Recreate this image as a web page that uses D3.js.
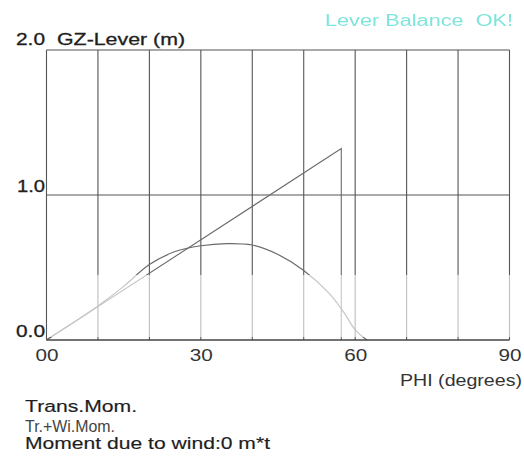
<!DOCTYPE html>
<html>
<head>
<meta charset="utf-8">
<script src="https://cdn.jsdelivr.net/npm/d3@7"></script>
<style>
  html, body { margin: 0; padding: 0; background: #fff; }
  svg { display: block; font-family: "Liberation Sans", Arial, sans-serif; }
  text { white-space: pre; }
</style>
</head>
<body>
<svg id="chart" width="524" height="468"></svg>
<script>
// Heel angle (degrees) and righting lever GZ (m)
const heelAngles = [0, 5, 10, 15, 20, 25, 30, 35, 40, 45, 50, 55, 58, 60, 62.3];
const gzValues   = [0, 0.115, 0.235, 0.37, 0.52, 0.61, 0.65, 0.665, 0.655, 0.59, 0.48, 0.32, 0.18, 0.07, 0];

// Initial stability tangent: GM plotted at 57.3 degrees (1 radian)
const gmAngles = [0, 57.3, 57.3];
const gmValues = [0, 1.32, 0];

// Axis ticks and labels
const gridAngles   = [0, 10, 20, 30, 40, 50, 60, 70, 80, 90];
const xTicks       = [0, 30, 60, 90];
const xTickLabels  = ["00", "30", "60", "90"];
const yGrid        = [1.0];
const yTicks       = [0, 1, 2];
const yTickLabels  = ["0.0", "1.0", "2.0"];

const svg = d3.select("#chart");

const x = d3.scaleLinear().domain([0, 90]).range([46.5, 509.5]);
const y = d3.scaleLinear().domain([0, 2]).range([340, 50]);

const ink = "#1e1e1e";
const gridColor = "#555";

// Vertical grid
svg.append("g").selectAll("line").data(gridAngles).join("line")
  .attr("x1", d => x(d)).attr("x2", d => x(d))
  .attr("y1", y(2)).attr("y2", y(0))
  .attr("stroke", gridColor).attr("stroke-width", 1.1);

// Horizontal grid at 1.0 and frame top
svg.append("g").selectAll("line").data(yGrid.concat([2])).join("line")
  .attr("x1", x(0)).attr("x2", x(90))
  .attr("y1", d => y(d)).attr("y2", d => y(d))
  .attr("stroke", gridColor).attr("stroke-width", 1.1);

// GM tangent and GZ curve
const lineGen = d3.line().x(d => x(d[0])).y(d => y(d[1]));
svg.append("path")
  .datum(gmAngles.map((a, i) => [a, gmValues[i]]))
  .attr("d", lineGen)
  .attr("fill", "none").attr("stroke", "#6a6a6a").attr("stroke-width", 1.1);

svg.append("path")
  .datum(heelAngles.map((a, i) => [a, gzValues[i]]))
  .attr("d", lineGen.curve(d3.curveCatmullRom.alpha(0.5)))
  .attr("fill", "none").attr("stroke", "#6a6a6a").attr("stroke-width", 1.2);

// Pale band across the lower part of the plot
svg.append("rect")
  .attr("x", x(0) + 1).attr("y", 275)
  .attr("width", 524 - x(0)).attr("height", 62)
  .attr("fill", "#fff").attr("opacity", 0.62);

// Baseline axis
svg.append("line")
  .attr("x1", x(0)).attr("x2", x(90))
  .attr("y1", y(0)).attr("y2", y(0))
  .attr("stroke", "#444").attr("stroke-width", 1.4);

// X tick labels through a bottom axis
const xAxis = d3.axisBottom(x)
  .tickValues(xTicks)
  .tickSize(0)
  .tickPadding(0)
  .tickFormat((d, i) => xTickLabels[i]);
const gx = svg.append("g").attr("transform", `translate(0,${y(0) + 21})`).call(xAxis);
gx.select(".domain").remove();
gx.selectAll("text")
  .attr("dy", 0).attr("y", 0)
  .attr("font-size", 16).attr("fill", "#333")
  .attr("font-family", "Liberation Sans, Arial, sans-serif")
  .attr("textLength", 23).attr("lengthAdjust", "spacingAndGlyphs");

// Y tick labels
const yBase = { 0: 336.5, 1: 192, 2: 45 };
const yLen = { 0: 29, 1: 28, 2: 29 };
svg.append("g").selectAll("text").data(yTicks).join("text")
  .attr("x", 45).attr("y", d => yBase[d])
  .attr("text-anchor", "end")
  .attr("font-size", 16).attr("fill", ink)
  .attr("stroke", ink).attr("stroke-width", 0.3)
  .attr("textLength", d => yLen[d]).attr("lengthAdjust", "spacingAndGlyphs")
  .text((d, i) => yTickLabels[i]);

// Titles and notes
function label(str, xPos, yPos, size, len, color, anchor) {
  return svg.append("text")
    .attr("x", xPos).attr("y", yPos)
    .attr("font-size", size).attr("fill", color || ink)
    .attr("text-anchor", anchor || "start")
    .attr("textLength", len).attr("lengthAdjust", "spacingAndGlyphs")
    .text(str);
}

label("GZ-Lever (m)", 57, 45, 16, 128).attr("stroke", ink).attr("stroke-width", 0.3);
label("PHI (degrees)", 400, 386, 16, 122, "#333");
label("Trans.Mom.", 25, 411.5, 16, 112).attr("stroke", ink).attr("stroke-width", 0.15);
label("Tr.+Wi.Mom.", 25, 431.5, 16, 90, "#444");
label("Moment due to wind:0 m*t", 25, 448.5, 16, 245).attr("stroke", ink).attr("stroke-width", 0.15);

const defs = svg.append("defs");
defs.append("filter").attr("id", "soft")
  .append("feGaussianBlur").attr("stdDeviation", 0.6);

label("Lever Balance  OK!", 325, 26, 16, 188, "#7ee5da")
  .attr("filter", "url(#soft)");
</script>
</body>
</html>
